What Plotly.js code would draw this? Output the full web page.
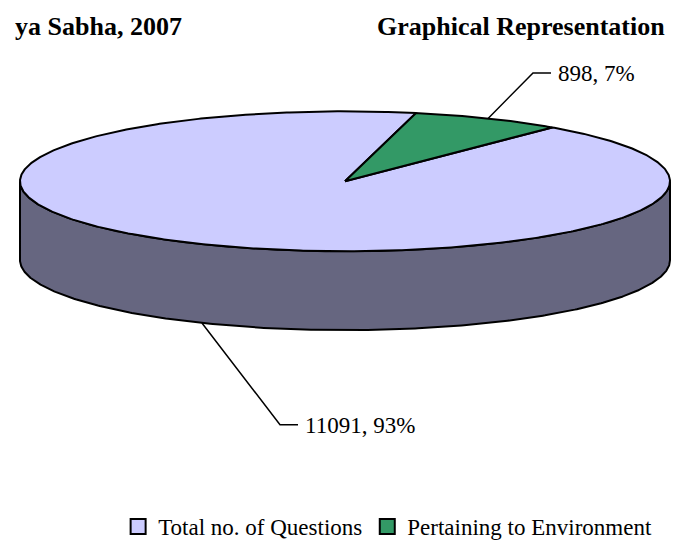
<!DOCTYPE html>
<html>
<head>
<meta charset="utf-8">
<script src="https://cdn.plot.ly/plotly-3.0.1.min.js"></script>
</head>
<body style="margin:0;background:#fff">
<div id="chart" style="width:675px;height:548px"></div>
<script>
// ---- data ----
const categories = ['Total no. of Questions', 'Pertaining to Environment'];
const values = [11091, 898];
const titleLeft = 'ya Sabha, 2007';
const titleRight = 'Graphical Representation';

// ---- styles / layout geometry (not data) ----
const topColors = ['#CCCCFF', '#339966'];
const sideColors = ['#666680', '#1F5C3D'];
const serifFamily = 'Times New Roman';
const geo = {cx: 345, cy: 184, rx: 325, ry: 71, depth: 80, start: 50.4};
const labelElbows = [{x: 280, y: 431}, {x: 533, y: 74}];
const tail = 18;

const total = values.reduce((s, v) => s + v, 0);
const rad = d => d * Math.PI / 180;
function pt(t, dz) { return [geo.cx + geo.rx * Math.cos(rad(t)), geo.cy - geo.ry * Math.sin(rad(t)) + dz]; }
function arc(a0, a1, dz) {
  const n = Math.max(2, Math.ceil(Math.abs(a0 - a1) / 0.5) + 1);
  const out = [];
  for (let i = 0; i < n; i++) out.push(pt(a0 + (a1 - a0) * i / (n - 1), dz));
  return out;
}
function poly(points, color, lw) {
  return {
    type: 'scatter', mode: 'lines', x: points.map(p => p[0]), y: points.map(p => p[1]),
    fill: 'toself', fillcolor: color, line: {color: '#000', width: lw},
    hoverinfo: 'skip', showlegend: false
  };
}

// slice angles (clockwise from start)
const slices = [];
let ang = geo.start;
values.forEach((v, i) => {
  const sweep = v / total * 360;
  slices.push({a0: ang, a1: ang - sweep, i: i});
  ang -= sweep;
});

const sideTraces = [], topTraces = [];
slices.forEach(s => {
  for (let k = -3; k <= 3; k++) {
    const lo = Math.max(s.a1, 180 + 360 * k), hi = Math.min(s.a0, 360 + 360 * k);
    if (hi > lo) {
      const pts = arc(lo, hi, 0).concat(arc(hi, lo, geo.depth));
      pts.push(pts[0]);
      sideTraces.push(poly(pts, sideColors[s.i], 2));
    }
  }
  const c = [geo.cx, geo.cy];
  topTraces.push(poly([c].concat(arc(s.a0, s.a1, 0), [c]), topColors[s.i], 2));
});

// leader lines + labels
const shapes = [], annotations = [];
slices.forEach(s => {
  const mid = (s.a0 + s.a1) / 2;
  const anchor = Math.sin(rad(mid)) >= 0 ? pt(mid, 0) : pt(mid, geo.depth);
  const e = labelElbows[s.i];
  shapes.push({type: 'path', xref: 'x', yref: 'y',
    path: 'M' + anchor[0] + ',' + anchor[1] + ' L' + e.x + ',' + e.y + ' L' + (e.x + tail) + ',' + e.y,
    line: {color: '#000', width: 1.5}});
  const pct = Math.round(100 * values[s.i] / total);
  annotations.push({xref: 'x', yref: 'y', x: e.x + tail + 5, y: e.y + 1, xanchor: 'left', yanchor: 'middle',
    text: values[s.i] + ', ' + pct + '%', showarrow: false, font: {family: serifFamily, size: 23, color: '#000'}});
});
annotations.push({xref: 'x', yref: 'y', x: 184, y: 27, xanchor: 'right', yanchor: 'middle',
  text: '<b>' + titleLeft + '</b>', showarrow: false, font: {family: serifFamily, size: 26, color: '#000'}});
annotations.push({xref: 'x', yref: 'y', x: 667, y: 27, xanchor: 'right', yanchor: 'middle',
  text: '<b>' + titleRight + '</b>', showarrow: false, font: {family: serifFamily, size: 26, color: '#000'}});

// legend entries
const legendTraces = categories.map((name, i) => ({
  type: 'scatter', mode: 'markers', x: [null], y: [null], name: name,
  marker: {symbol: 'square', size: 15, color: topColors[i], line: {color: '#000', width: 2}},
  hoverinfo: 'skip'
}));

const layout = {
  width: 675, height: 548,
  margin: {l: 0, r: 0, t: 0, b: 0, pad: 0},
  font: {family: serifFamily, size: 23, color: '#000'},
  paper_bgcolor: '#fff', plot_bgcolor: '#fff',
  xaxis: {range: [0, 675], visible: false, fixedrange: true},
  yaxis: {range: [548, 0], visible: false, fixedrange: true},
  showlegend: true,
  legend: {orientation: 'h', x: 0.175, xanchor: 'left', y: 0.025, yanchor: 'middle',
    font: {family: serifFamily, size: 23, color: '#000'}, bgcolor: 'rgba(0,0,0,0)'},
  shapes: shapes,
  annotations: annotations
};

Plotly.newPlot('chart', sideTraces.concat(topTraces, legendTraces), layout, {displayModeBar: false});
</script>
</body>
</html>
